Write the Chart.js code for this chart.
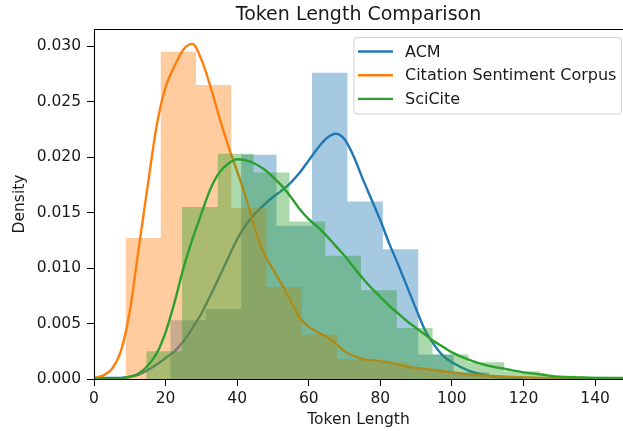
<!DOCTYPE html>
<html>
<head>
<meta charset="utf-8">
<title>Token Length Comparison</title>
<script src="https://cdn.jsdelivr.net/npm/chart.js@4.4.1/dist/chart.umd.min.js"></script>
<style>
  html, body { margin: 0; padding: 0; background: #ffffff; }
  canvas { display: block; }
</style>
</head>
<body>
<canvas id="myChart" width="623" height="431"></canvas>
<script>
      var seriesNames = ["ACM", "Citation Sentiment Corpus", "SciCite"];
      var seriesColors = ["#1f77b4", "#ff7f0e", "#2ca02c"];
      var histColors = ["rgba(31,119,180,0.4)", "rgba(255,127,14,0.4)", "rgba(44,160,44,0.4)"];

      var xTicks = [0, 20, 40, 60, 80, 100, 120, 140];
      var yTicks = [0, 0.005, 0.010, 0.015, 0.020, 0.025, 0.030];

      // histogram bin edges and density per bin
      var acmEdges = [21.3, 31.2, 41.1, 51.0, 60.9, 70.8, 80.7, 90.6, 100.5, 110.4, 120.3];
      var acmHist = [0.0053, 0.0063, 0.0202, 0.0138, 0.0276, 0.0160, 0.0117, 0.0022, 0.0006, 0.0002];

      var citEdges = [8.8, 18.65, 28.5, 38.35, 48.2, 58.05, 67.9, 77.75, 87.6, 97.45, 107.3, 117.15, 127.0, 136.85, 146.7];
      var citHist = [0.0127, 0.0295, 0.0265, 0.0154, 0.0083, 0.0040, 0.0018, 0.0015, 0.0009, 0.0005, 0.0003, 0.0002, 0.0001, 0.0001];

      var sciEdges = [14.6, 24.6, 34.6, 44.6, 54.6, 64.6, 74.6, 84.6, 94.6, 104.6, 114.6, 124.6, 134.6, 144.6];
      var sciHist = [0.0025, 0.0155, 0.0203, 0.0186, 0.0142, 0.0111, 0.0080, 0.0046, 0.0022, 0.0015, 0.0007, 0.0003, 0.0002];

      // kde curves, read at these token lengths
      var kdeX = [0, 2.5, 5, 7.5, 10, 12.5, 15, 17.5, 20, 22.5, 25, 27.5, 30, 32.5, 35, 37.5, 40, 42.5, 45, 47.5,
                  50, 52.5, 55, 57.5, 60, 62.5, 65, 67.5, 70, 72.5, 75, 77.5, 80, 82.5, 85, 87.5, 90, 92.5, 95, 97.5,
                  100, 105, 110, 115, 120, 125, 130, 135, 140, 148];
      var acmKde = [0.0001, 0.0001, 0.0001, 0.0001, 0.0002, 0.0004, 0.0008, 0.0013, 0.0019, 0.0025, 0.0034, 0.0046, 0.0059, 0.0075, 0.0092, 0.0109, 0.0126, 0.0139, 0.0149, 0.0157,
                    0.0164, 0.0170, 0.0177, 0.0186, 0.0197, 0.0208, 0.0217, 0.0221, 0.0216, 0.0201, 0.0181, 0.0162, 0.0143, 0.0122, 0.0103, 0.0083, 0.0063, 0.0044, 0.0031, 0.0021,
                    0.0015, 0.0007, 0.0003, 0.0001, 0.0000, null, null, null, null, null];
      var citKde = [0.0001, 0.0003, 0.0009, 0.0025, 0.0061, 0.0118, 0.0174, 0.0228, 0.0263, 0.0282, 0.0297, 0.0302, 0.0288, 0.0264, 0.0236, 0.0210, 0.0187, 0.0163, 0.0135, 0.0113,
                    0.0099, 0.0085, 0.0070, 0.0055, 0.0047, 0.0042, 0.0038, 0.0032, 0.0025, 0.0021, 0.0018, 0.0017, 0.0016, 0.0015, 0.0013, 0.0011, 0.0010, 0.0009, 0.0008, 0.0007,
                    0.0006, 0.0004, 0.0003, 0.0002, 0.00015, 0.0001, 0.0001, 0.0001, 0.00005, 0.00005];
      var sciKde = [0, 0, 0, 0.00005, 0.0002, 0.0005, 0.0012, 0.0023, 0.0042, 0.0069, 0.0100, 0.0126, 0.0149, 0.0171, 0.0186, 0.0194, 0.0198, 0.0197, 0.0194, 0.0189,
                    0.0182, 0.0174, 0.0164, 0.0153, 0.0144, 0.0137, 0.0129, 0.0120, 0.0111, 0.0101, 0.0091, 0.0082, 0.0074, 0.0066, 0.0059, 0.0052, 0.0046, 0.0040, 0.0034, 0.0029,
                    0.0024, 0.0017, 0.0012, 0.0009, 0.0006, 0.0004, 0.0002, 0.00015, 0.0001, 0.0001];

      function histPoints(edges, hist) {
        return edges.map(function (e, i) {
          return {x: e, y: hist[Math.min(i, hist.length - 1)]};
        });
      }
      function kdePoints(vals) {
        return kdeX.map(function (x, i) {
          return {x: x, y: vals[i]};
        });
      }

      function histSet(edges, hist, k, order) {
        return {type: "line", data: histPoints(edges, hist), label: seriesNames[k] + " hist",
          stepped: true, fill: "origin", backgroundColor: histColors[k],
          borderColor: "rgba(0,0,0,0)", borderWidth: 0, pointRadius: 0, order: order};
      }
      function kdeSet(vals, k, order) {
        return {type: "line", data: kdePoints(vals), label: seriesNames[k],
          borderColor: seriesColors[k], backgroundColor: seriesColors[k], borderWidth: 2.4,
          fill: false, pointRadius: 0, cubicInterpolationMode: "monotone", spanGaps: false, order: order};
      }

      var FONT = "'DejaVu Sans', sans-serif";
      var TEXT = "#1a1a1a";

      // title, top spine and legend drawn like matplotlib
      var overlay = {
        id: "overlay",
        afterDraw: function (chart) {
          var ctx = chart.ctx, a = chart.chartArea;
          ctx.save();
          ctx.strokeStyle = "#000";
          ctx.lineWidth = 1.1;
          ctx.beginPath();
          ctx.moveTo(a.left + 0.5, a.bottom + 0.5);
          ctx.lineTo(a.left + 0.5, a.top + 0.5);
          ctx.lineTo(a.right, a.top + 0.5);
          ctx.moveTo(a.left, a.bottom + 0.5);
          ctx.lineTo(a.right, a.bottom + 0.5);
          ctx.stroke();

          ctx.fillStyle = TEXT;
          ctx.font = "19px " + FONT;
          ctx.textAlign = "center";
          ctx.textBaseline = "alphabetic";
          ctx.fillText("Token Length Comparison", (a.left + a.right) / 2, 19.5);

          // legend box
          var bx = 354, by = 37.5, bw = 267.5, bh = 76.5, r = 3;
          ctx.beginPath();
          ctx.moveTo(bx + r, by);
          ctx.lineTo(bx + bw - r, by);
          ctx.arcTo(bx + bw, by, bx + bw, by + r, r);
          ctx.lineTo(bx + bw, by + bh - r);
          ctx.arcTo(bx + bw, by + bh, bx + bw - r, by + bh, r);
          ctx.lineTo(bx + r, by + bh);
          ctx.arcTo(bx, by + bh, bx, by + bh - r, r);
          ctx.lineTo(bx, by + r);
          ctx.arcTo(bx, by, bx + r, by, r);
          ctx.closePath();
          ctx.fillStyle = "rgba(255,255,255,0.8)";
          ctx.fill();
          ctx.strokeStyle = "#d0d0d0";
          ctx.lineWidth = 1;
          ctx.stroke();

          ctx.font = "16px " + FONT;
          ctx.textAlign = "left";
          ctx.textBaseline = "middle";
          for (var i = 0; i < seriesNames.length; i++) {
            var yy = 51.5 + i * 23.7;
            ctx.strokeStyle = seriesColors[i];
            ctx.lineWidth = 2.4;
            ctx.beginPath();
            ctx.moveTo(358, yy);
            ctx.lineTo(393, yy);
            ctx.stroke();
            ctx.fillStyle = TEXT;
            ctx.fillText(seriesNames[i], 405, yy + 1);
          }
          ctx.restore();
        }
      };

      var chart = new Chart("myChart", {
        data: {
          datasets: [
            histSet(acmEdges, acmHist, 0, 6),
            kdeSet(acmKde, 0, 5),
            histSet(citEdges, citHist, 1, 4),
            kdeSet(citKde, 1, 3),
            histSet(sciEdges, sciHist, 2, 2),
            kdeSet(sciKde, 2, 1)
          ]
        },
        options: {
          responsive: false,
          animation: false,
          devicePixelRatio: 1,
          layout: {padding: {top: 29, right: 0, left: 0, bottom: 0}},
          plugins: {
            legend: {display: false},
            title: {display: false},
            tooltip: {enabled: false}
          },
          scales: {
            x: {
              type: "linear",
              min: 0,
              max: 147.8,
              afterFit: function (s) { s.height = 52; },
              afterBuildTicks: function (s) {
                s.ticks = xTicks.map(function (v) { return {value: v}; });
              },
              ticks: {
                font: {family: FONT, size: 15.5}, color: TEXT, padding: 4,
                maxRotation: 0, autoSkip: false,
                callback: function (v) { return String(v); }
              },
              grid: {drawOnChartArea: false, drawTicks: true, tickLength: 7, color: "#000", lineWidth: 1},
              border: {display: false},
              title: {display: true, text: "Token Length", font: {family: FONT, size: 15.5},
                color: TEXT, padding: {top: 0, bottom: 2}}
            },
            y: {
              type: "linear",
              min: 0,
              max: 0.03154,
              afterFit: function (s) { s.width = 94; },
              afterBuildTicks: function (s) {
                s.ticks = yTicks.map(function (v) { return {value: v}; });
              },
              ticks: {
                font: {family: FONT, size: 15.5}, color: TEXT, padding: 6,
                callback: function (v) { return v.toFixed(3); }
              },
              grid: {drawOnChartArea: false, drawTicks: true, tickLength: 7, color: "#000", lineWidth: 1},
              border: {display: false},
              title: {display: true, text: "Density", font: {family: FONT, size: 15.5},
                color: TEXT, padding: {top: 11, bottom: 0}}
            }
          }
        },
        plugins: [overlay]
      });
</script>
</body>
</html>
